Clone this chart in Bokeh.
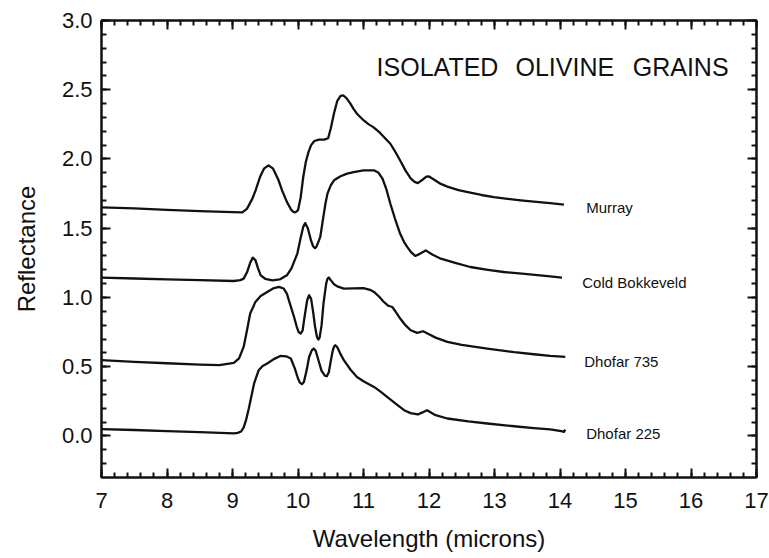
from bokeh.plotting import figure
from bokeh.models import (LinearAxis, Range1d, Label, SingleIntervalTicker,
                          PrintfTickFormatter, CustomLabelingPolicy)
from bokeh.embed import file_html
from bokeh.resources import INLINE

# ---------------- data ----------------
murray_x = [7.0, 7.5, 8.0, 8.5, 9.0, 9.15, 9.22, 9.3, 9.35, 9.42, 9.48, 9.55, 9.62, 9.7, 9.76,
            9.83, 9.9, 9.93, 9.95, 9.97, 10.0, 10.04, 10.08, 10.12, 10.16, 10.2, 10.25, 10.32,
            10.4, 10.46, 10.5, 10.55, 10.6, 10.65, 10.69, 10.74, 10.8, 10.85, 10.9, 11.0, 11.08,
            11.15, 11.25, 11.33, 11.41, 11.5, 11.57, 11.64, 11.72, 11.78, 11.83, 11.9, 11.96, 12.0,
            12.08, 12.18, 12.28, 12.45, 12.63, 12.8, 12.99, 13.2, 13.4, 13.6, 13.85, 14.06]
murray_y = [1.651, 1.643, 1.632, 1.624, 1.616, 1.615, 1.64, 1.71, 1.77, 1.87, 1.93, 1.954, 1.93,
            1.85, 1.77, 1.69, 1.63, 1.618, 1.615, 1.618, 1.63, 1.72, 1.87, 1.98, 2.05, 2.10, 2.13,
            2.14, 2.14, 2.15, 2.22, 2.33, 2.42, 2.455, 2.459, 2.44, 2.40, 2.36, 2.327, 2.28, 2.25,
            2.23, 2.19, 2.15, 2.11, 2.04, 1.98, 1.918, 1.86, 1.835, 1.826, 1.85, 1.872, 1.874,
            1.85, 1.82, 1.80, 1.775, 1.757, 1.74, 1.725, 1.712, 1.701, 1.692, 1.682, 1.67]

cold_x = [7.0, 7.5, 8.0, 8.5, 9.02, 9.12, 9.17, 9.22, 9.27, 9.31, 9.35, 9.39, 9.43, 9.5, 9.61,
          9.72, 9.83, 9.9, 9.95, 9.99, 10.04, 10.08, 10.11, 10.15, 10.2, 10.23, 10.26, 10.28,
          10.31, 10.34, 10.38, 10.42, 10.45, 10.5, 10.55, 10.65, 10.75, 10.85, 11.0, 11.16,
          11.23, 11.29, 11.35, 11.41, 11.48, 11.56, 11.62, 11.67, 11.73, 11.79, 11.86, 11.95,
          12.05, 12.18, 12.4, 12.63, 12.9, 13.14, 13.5, 13.85, 14.03]
cold_y = [1.144, 1.137, 1.131, 1.125, 1.119, 1.125, 1.136, 1.18, 1.25, 1.288, 1.27, 1.21, 1.16,
          1.135, 1.124, 1.13, 1.16, 1.21, 1.27, 1.317, 1.43, 1.51, 1.537, 1.50, 1.41, 1.37,
          1.357, 1.365, 1.40, 1.437, 1.56, 1.68, 1.75, 1.81, 1.846, 1.875, 1.894, 1.905, 1.918,
          1.918, 1.90, 1.858, 1.78, 1.677, 1.57, 1.46, 1.40, 1.364, 1.325, 1.30, 1.315, 1.34,
          1.31, 1.28, 1.25, 1.22, 1.20, 1.184, 1.168, 1.153, 1.144]

d735_x = [7.0, 7.5, 8.0, 8.5, 8.8, 9.02, 9.1, 9.17, 9.22, 9.27, 9.35, 9.43, 9.53, 9.62, 9.71,
          9.78, 9.83, 9.88, 9.94, 9.98, 10.01, 10.04, 10.07, 10.1, 10.14, 10.17, 10.2, 10.23,
          10.26, 10.29, 10.31, 10.33, 10.36, 10.39, 10.43, 10.45, 10.47, 10.5, 10.55, 10.6, 10.7,
          10.85, 11.0, 11.1, 11.16, 11.24, 11.31, 11.38, 11.44, 11.5, 11.56, 11.64, 11.72, 11.82,
          11.91, 12.0, 12.1, 12.28, 12.5, 12.89, 13.3, 13.6, 13.85, 14.08]
d735_y = [0.547, 0.535, 0.525, 0.515, 0.512, 0.527, 0.56, 0.643, 0.76, 0.884, 0.968, 1.01, 1.04,
          1.065, 1.076, 1.065, 1.028, 0.95, 0.859, 0.79, 0.75, 0.74, 0.76, 0.86, 0.98, 1.016,
          0.99, 0.90, 0.79, 0.715, 0.696, 0.71, 0.80, 0.96, 1.10, 1.135, 1.144, 1.125, 1.095,
          1.08, 1.064, 1.066, 1.068, 1.055, 1.04, 1.005, 0.968, 0.94, 0.931, 0.89, 0.848, 0.80,
          0.763, 0.744, 0.756, 0.735, 0.71, 0.679, 0.657, 0.631, 0.605, 0.59, 0.578, 0.571]

d225_x = [7.0, 7.5, 8.0, 8.5, 9.02, 9.08, 9.13, 9.17, 9.21, 9.25, 9.29, 9.33, 9.4, 9.46, 9.53,
          9.63, 9.73, 9.82, 9.89, 9.95, 10.0, 10.03, 10.06, 10.09, 10.13, 10.17, 10.21, 10.24,
          10.27, 10.31, 10.36, 10.41, 10.44, 10.47, 10.5, 10.53, 10.55, 10.57, 10.6, 10.64, 10.7,
          10.8, 10.9, 11.0, 11.16, 11.26, 11.36, 11.5, 11.62, 11.72, 11.83, 11.9, 11.97, 12.1,
          12.28, 12.6, 12.89, 13.3, 13.6, 13.85, 14.02, 14.06, 14.08]
d225_y = [0.05, 0.043, 0.035, 0.027, 0.018, 0.022, 0.032, 0.06, 0.12, 0.2, 0.29, 0.379, 0.475,
          0.505, 0.523, 0.555, 0.578, 0.575, 0.559, 0.49, 0.415, 0.385, 0.374, 0.39, 0.47, 0.57,
          0.618, 0.631, 0.615, 0.55, 0.47, 0.435, 0.431, 0.46, 0.54, 0.615, 0.645, 0.655, 0.64,
          0.6, 0.547, 0.48, 0.426, 0.395, 0.354, 0.32, 0.282, 0.23, 0.186, 0.165, 0.155, 0.17,
          0.186, 0.15, 0.126, 0.105, 0.09, 0.07, 0.057, 0.047, 0.035, 0.03, 0.045]

series_names = ["Murray", "Cold Bokkeveld", "Dhofar 735", "Dhofar 225"]
label_x = [14.4, 14.34, 14.37, 14.4]
label_y = [1.65, 1.105, 0.535, 0.018]
title_words = ["ISOLATED", "OLIVINE", "GRAINS"]
title_x = [11.2, 13.32, 15.11]
title_y = 2.665

FONT = "Liberation Sans"
INK = "#111111"

p = figure(width=769, height=558, output_backend="svg", toolbar_location=None,
           x_range=Range1d(7, 17), y_range=Range1d(-0.3, 3.0),
           min_border_left=101, min_border_right=13, min_border_top=20, min_border_bottom=81)
p.grid.visible = False
p.outline_line_color = INK
p.outline_line_width = 2
p.background_fill_color = "white"
p.border_fill_color = "white"

def style(ax, show_labels):
    ax.major_tick_in = 9
    ax.major_tick_out = 0
    ax.minor_tick_in = 5
    ax.minor_tick_out = 0
    ax.major_tick_line_width = 2
    ax.minor_tick_line_width = 2
    ax.major_tick_line_color = INK
    ax.minor_tick_line_color = INK
    ax.axis_line_color = INK
    ax.axis_line_width = 2
    ax.major_label_text_font = FONT
    ax.major_label_text_color = INK
    ax.major_label_text_font_size = "22px"
    if not show_labels:
        ax.major_label_policy = CustomLabelingPolicy(code="return []")
        ax.major_label_text_font_size = "0px"
        ax.major_label_standoff = 0

p.xaxis.ticker = SingleIntervalTicker(interval=1, num_minor_ticks=5)
p.yaxis.ticker = SingleIntervalTicker(interval=0.5, num_minor_ticks=5)
style(p.xaxis[0], True)
style(p.yaxis[0], True)
p.xaxis.major_label_standoff = 15
p.yaxis.major_label_standoff = 9
p.yaxis.formatter = PrintfTickFormatter(format="%.1f")
p.xaxis.axis_label = "Wavelength (microns)"
p.yaxis.axis_label = "Reflectance"
for ax in (p.xaxis[0], p.yaxis[0]):
    ax.axis_label_text_font = FONT
    ax.axis_label_text_font_style = "normal"
    ax.axis_label_text_font_size = "24px"
    ax.axis_label_text_color = INK
p.xaxis.axis_label_standoff = 14
p.yaxis.axis_label_standoff = 19

top = LinearAxis(ticker=SingleIntervalTicker(interval=1, num_minor_ticks=5))
right = LinearAxis(ticker=SingleIntervalTicker(interval=0.5, num_minor_ticks=5))
style(top, False)
style(right, False)
p.add_layout(top, "above")
p.add_layout(right, "right")

for xs, ys in [(murray_x, murray_y), (cold_x, cold_y), (d735_x, d735_y), (d225_x, d225_y)]:
    p.line(xs, ys, line_color=INK, line_width=2.3, line_join="round")

for name, lx, ly in zip(series_names, label_x, label_y):
    p.add_layout(Label(x=lx, y=ly, text=name, text_font=FONT, text_font_size="15px",
                       text_color=INK, text_baseline="middle", text_align="left"))

for word, tx in zip(title_words, title_x):
    p.add_layout(Label(x=tx, y=title_y, text=word, text_font=FONT, text_font_size="25px",
                       text_color=INK, text_baseline="middle", text_align="left"))

open("out.html", "w").write(file_html(p, INLINE))
